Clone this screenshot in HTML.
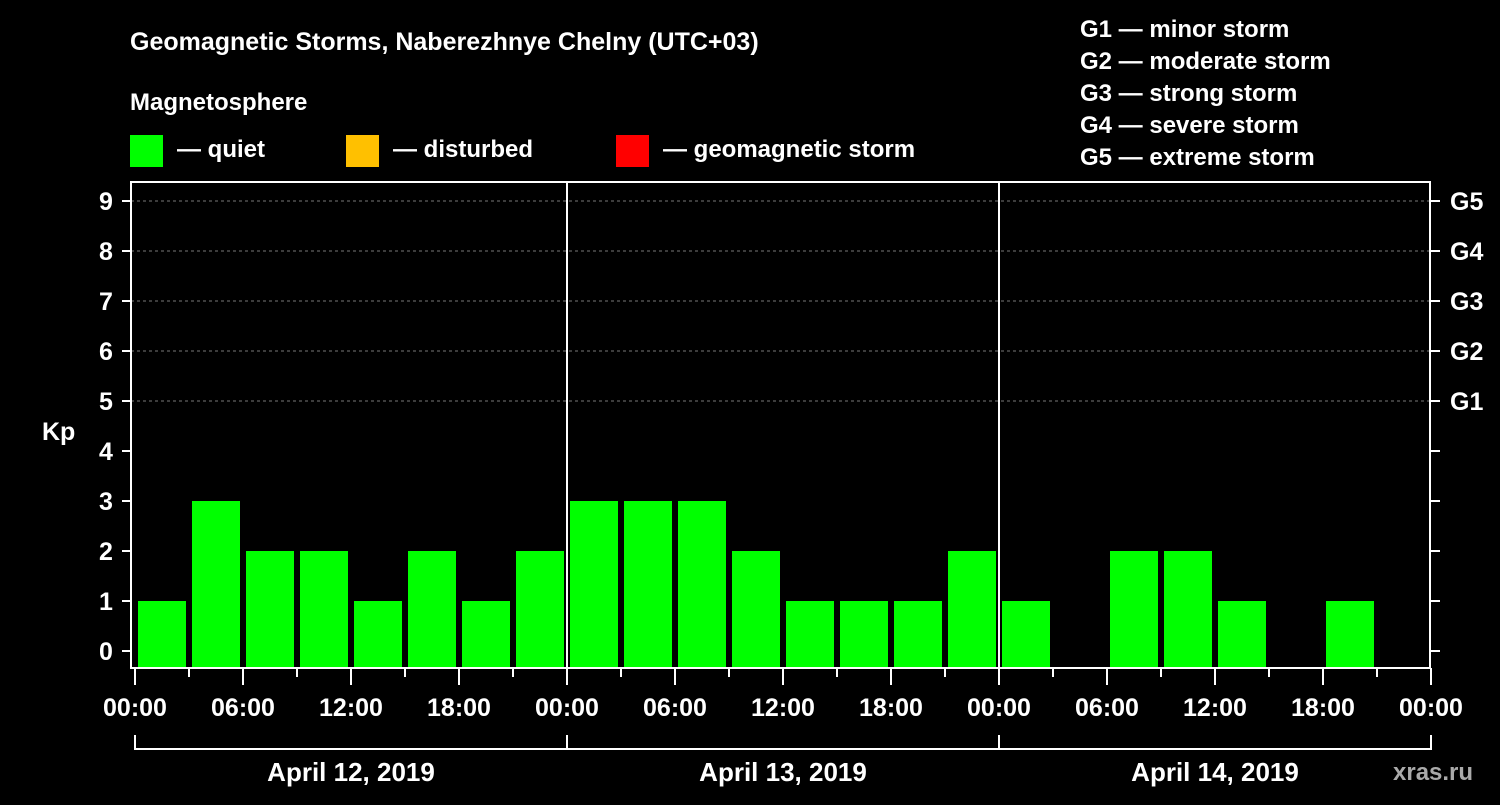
<!DOCTYPE html>
<html><head><meta charset="utf-8"><style>
html,body{margin:0;padding:0;background:#000;}
svg text{font-family:"Liberation Sans",Arial,sans-serif;font-weight:bold;fill:#fff;}
</style></head><body>
<svg id="c" width="1500" height="800" xmlns="http://www.w3.org/2000/svg">
<text x="130" y="50" font-size="25">Geomagnetic Storms, Naberezhnye Chelny (UTC+03)</text>
<text x="130" y="110" font-size="24">Magnetosphere</text>
<g>
<rect x="130" y="135" width="33" height="32" fill="#00ff00"/>
<text x="177" y="157" font-size="24">— quiet</text>
<rect x="346" y="135" width="33" height="32" fill="#ffc000"/>
<text x="393" y="157" font-size="24">— disturbed</text>
<rect x="616" y="135" width="33" height="32" fill="#ff0000"/>
<text x="663" y="157" font-size="24">— geomagnetic storm</text>
</g>
<g font-size="24">
<text x="1080" y="37">G1 — minor storm</text>
<text x="1080" y="69">G2 — moderate storm</text>
<text x="1080" y="101">G3 — strong storm</text>
<text x="1080" y="133">G4 — severe storm</text>
<text x="1080" y="165">G5 — extreme storm</text>
</g>
<text x="42" y="440" font-size="25">Kp</text>
<text x="1393" y="780" font-size="24" fill="#aaa" style="fill:#aaa">xras.ru</text>
<g id="plot"></g>
</svg>
<script>
const dayLabels=["April 12, 2019","April 13, 2019","April 14, 2019"];
const kpValues=[1,3,2,2,1,2,1,2, 3,3,3,2,1,1,1,2, 1,null,2,2,1,null,1,null];
const yTicks=[0,1,2,3,4,5,6,7,8,9];
const gLabels=["G1","G2","G3","G4","G5"];
const xTickLabels=["00:00","06:00","12:00","18:00"];

const NS="http://www.w3.org/2000/svg";
const g=document.getElementById('plot');
const L=131,R=1430,T=182,B=668,x0=135,pxH=18;
const X=h=>x0+h*pxH;
const Y=v=>651-v*50;
function el(t,a){const e=document.createElementNS(NS,t);for(const k in a)e.setAttribute(k,a[k]);g.appendChild(e);return e;}
// grid
for(let v=5;v<=9;v++){const e=el('line',{x1:L,x2:R,y1:Y(v),y2:Y(v),stroke:'#777','stroke-dasharray':'3,3','stroke-width':1});

}
// bars
kpValues.forEach((v,i)=>{if(v===null)return;
const colr=v>=5?'#ff0000':(v>=4?'#ffc000':'#00ff00');
const r=el('rect',{x:X(i*3)+3,y:Y(v),width:48,height:B-Y(v),fill:colr});

});
// axes frame
const fr=el('rect',{x:L,y:T,width:R-L,height:B-T,fill:'none',stroke:'#fff','stroke-width':2});


// day separators
for(let d=1;d<3;d++){const e=el('line',{x1:X(d*24),x2:X(d*24),y1:T,y2:B,stroke:'#fff','stroke-width':2});

}
// y ticks
yTicks.forEach(v=>{
const t=el('line',{x1:122,x2:L,y1:Y(v),y2:Y(v),stroke:'#fff','stroke-width':2});


const t2=el('line',{x1:R,x2:1440,y1:Y(v),y2:Y(v),stroke:'#fff','stroke-width':2});


const tx=el('text',{x:106,y:Y(v)+9,'font-size':25,'text-anchor':'middle'});tx.textContent=v;

});
gLabels.forEach((s,i)=>{const tx=el('text',{x:1450,y:Y(5+i)+9,'font-size':25});tx.textContent=s;

});
// x ticks
for(let h=0;h<=72;h+=3){const major=h%6===0;
const t=el('line',{x1:X(h),x2:X(h),y1:B,y2:B+(major?17:9),stroke:'#fff','stroke-width':2});


if(major){const tx=el('text',{x:X(h),y:716,'font-size':25,'text-anchor':'middle'});tx.textContent=xTickLabels[(h%24)/6];

}}
// bracket
const br=el('line',{x1:X(0),x2:X(72),y1:749,y2:749,stroke:'#fff','stroke-width':2});


for(let d=0;d<=3;d++){const e=el('line',{x1:X(d*24),x2:X(d*24),y1:735,y2:750,stroke:'#fff','stroke-width':2});

}
dayLabels.forEach((s,d)=>{const tx=el('text',{x:X(d*24+12),y:781,'font-size':26,'text-anchor':'middle'});tx.textContent=s;

});
</script>
</body></html>
